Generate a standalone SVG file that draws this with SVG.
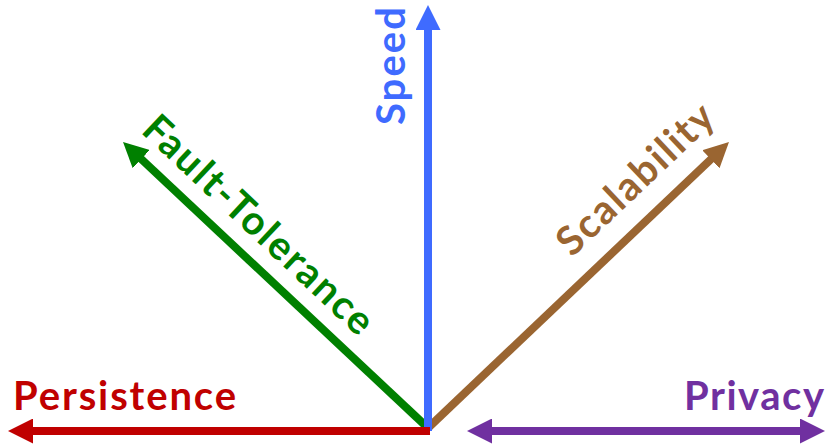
<svg xmlns="http://www.w3.org/2000/svg" width="830" height="444" viewBox="0 0 830 444">
<style>
text{font-family:Lato,"Open Sans","Liberation Sans",sans-serif;font-weight:bold;font-size:40px}
line{stroke-width:8;fill:none}
</style>
<defs>
<marker id="aR" markerUnits="userSpaceOnUse" viewBox="0 0 25 25" markerWidth="25" markerHeight="25" refX="5" refY="12.5" orient="auto"><path d="M0,0L25,12.5L0,25z" fill="#C00000"/></marker>
<marker id="aB" markerUnits="userSpaceOnUse" viewBox="0 0 25 25" markerWidth="25" markerHeight="25" refX="5" refY="12.5" orient="auto"><path d="M0,0L25,12.5L0,25z" fill="#3F6BFF"/></marker>
<marker id="aG" markerUnits="userSpaceOnUse" viewBox="0 0 25 25" markerWidth="25" markerHeight="25" refX="5" refY="12.5" orient="auto"><path d="M0,0L25,12.5L0,25z" fill="#008000"/></marker>
<marker id="aN" markerUnits="userSpaceOnUse" viewBox="0 0 25 25" markerWidth="25" markerHeight="25" refX="5" refY="12.5" orient="auto"><path d="M0,0L25,12.5L0,25z" fill="#9A6531"/></marker>
<marker id="aP" markerUnits="userSpaceOnUse" viewBox="0 0 25 25" markerWidth="25" markerHeight="25" refX="5" refY="12.5" orient="auto-start-reverse"><path d="M0,0L25,12.5L0,25z" fill="#7030A0"/></marker>
</defs>
<g id="connectors">
<line x1="428" y1="428" x2="137.6" y2="155.7" stroke="#008000" marker-end="url(#aG)"/>
<line x1="428" y1="428" x2="714.5" y2="155.8" stroke="#9A6531" marker-end="url(#aN)"/>
<line x1="428" y1="431" x2="428" y2="25" stroke="#3F6BFF" marker-end="url(#aB)"/>
<line x1="430" y1="431" x2="28" y2="431" stroke="#C00000" marker-end="url(#aR)"/>
<line x1="487" y1="431" x2="805" y2="431" stroke="#7030A0" marker-start="url(#aP)" marker-end="url(#aP)"/>
</g>
<g id="speed"><text transform="translate(405,125) rotate(-90)" fill="#3F6BFF" textLength="118">Speed</text></g>
<g id="fault-tolerance"><text transform="translate(140,132) rotate(43.2)" fill="#008000" textLength="300">Fault-Tolerance</text></g>
<g id="scalability"><text transform="translate(572,258) rotate(-43.5)" fill="#9A6531" textLength="200">Scalability</text></g>
<g id="persistence"><text x="13" y="410" fill="#C00000" textLength="223">Persistence</text></g>
<g id="privacy"><text x="684" y="410" fill="#7030A0" textLength="140">Privacy</text></g>
</svg>
